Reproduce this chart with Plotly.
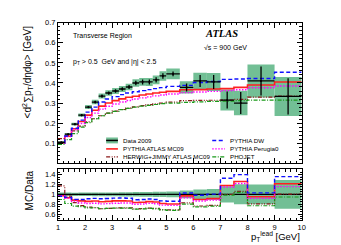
import numpy as np
import plotly.graph_objects as go

# ---------------- data ----------------
edges = [1.0, 1.25, 1.5, 1.75, 2.0, 2.25, 2.5, 2.75, 3.0, 3.25, 3.5, 3.75, 4.0,
         4.25, 4.5, 4.75, 5.0, 5.5, 6.0, 6.5, 7.0, 7.5, 8.0, 9.0, 10.0]
data_2009 = [0.105, 0.145, 0.195, 0.240, 0.280, 0.305, 0.335, 0.350, 0.360, 0.370, 0.380, 0.400,
             0.405, 0.405, 0.415, 0.435, 0.445, 0.378, 0.410, 0.405, 0.315, 0.300, 0.410, 0.333]
data_tot_err = [0.0037, 0.0051, 0.0068, 0.0084, 0.0098, 0.0113, 0.0127, 0.0140, 0.0144, 0.0155, 0.0167, 0.0184,
                0.0194, 0.0203, 0.0216, 0.0239, 0.0267, 0.0300, 0.0410, 0.0446, 0.0520, 0.0610, 0.0820, 0.0970]
data_stat_err = [0.003, 0.004, 0.005, 0.006, 0.006, 0.007, 0.008, 0.008, 0.009, 0.009, 0.010, 0.011,
                 0.012, 0.012, 0.013, 0.014, 0.012, 0.020, 0.030, 0.035, 0.042, 0.055, 0.072, 0.090]
pythia_mc09 = [0.102, 0.135, 0.172, 0.208, 0.240, 0.264, 0.285, 0.300, 0.312, 0.321, 0.329, 0.334,
               0.340, 0.345, 0.350, 0.354, 0.358, 0.366, 0.367, 0.370, 0.372, 0.378, 0.390, 0.405]
pythia_dw = [0.101, 0.136, 0.175, 0.215, 0.255, 0.280, 0.305, 0.320, 0.332, 0.342, 0.350, 0.356,
             0.362, 0.367, 0.372, 0.377, 0.383, 0.388, 0.402, 0.407, 0.418, 0.420, 0.422, 0.453]
pythia_perugia0 = [0.102, 0.133, 0.168, 0.198, 0.228, 0.250, 0.270, 0.284, 0.295, 0.305, 0.313, 0.320,
                   0.326, 0.331, 0.336, 0.340, 0.345, 0.352, 0.355, 0.358, 0.362, 0.366, 0.376, 0.385]
herwig_jimmy = [0.123, 0.140, 0.162, 0.185, 0.207, 0.222, 0.237, 0.250, 0.260, 0.268, 0.275, 0.281,
                0.287, 0.292, 0.296, 0.300, 0.305, 0.312, 0.313, 0.314, 0.315, 0.318, 0.330, 0.335]
phojet = [0.094, 0.118, 0.148, 0.180, 0.203, 0.222, 0.237, 0.250, 0.259, 0.267, 0.274, 0.280,
          0.285, 0.289, 0.293, 0.297, 0.300, 0.303, 0.306, 0.308, 0.310, 0.312, 0.315, 0.315]

legend_labels = ["Data 2009", "PYTHIA ATLAS MC09", "HERWIG+JIMMY ATLAS MC09",
                 "PYTHIA DW", "PYTHIA Perugia0", "PHOJET"]
main_yticks = [0.1, 0.2, 0.3, 0.4, 0.5, 0.6, 0.7]
ratio_yticks = [0.6, 0.8, 1.0, 1.2, 1.4]
ratio_yticktext = ["0.6", "0.8", "1", "1.2", "1.4"]
x_ticks = [1, 2, 3, 4, 5, 6, 7, 8, 9, 10]

# ---------------- styles ----------------
W, H = 341, 245
GREEN = "#72bf95"
FONT = "Liberation Sans"
styles = {
    "mc09": dict(color="#ff2020", width=1.6, dash="solid"),
    "dw": dict(color="#1010ff", width=1.4, dash="4px,2.5px"),
    "perugia": dict(color="#ff00ff", width=1.4, dash="1.5px,1.5px"),
    "herwig": dict(color="#8b1a1a", width=1.2, dash="4px,1.5px,1px,1.5px,1px,1.5px"),
    "phojet": dict(color="#1a9a1a", width=1.2, dash="4px,1.5px,1px,1.5px"),
}

e = np.array(edges)
centers = (e[:-1] + e[1:]) / 2
halfw = np.diff(e) / 2
d = np.array(data_2009)
tot = np.array(data_tot_err)
stat = np.array(data_stat_err)

def px(xp):
    return xp / W

def py(yp):
    return 1 - yp / H

def step(vals):
    v = list(vals)
    return list(edges), v + [v[-1]]

fig = go.Figure()

# main panel: data total uncertainty boxes
fig.add_trace(go.Bar(x=centers, y=2 * tot, base=d - tot, width=2 * halfw,
                     marker=dict(color=GREEN, line=dict(width=0)),
                     xaxis="x", yaxis="y", showlegend=False, hoverinfo="skip"))

mc_sets = [("mc09", pythia_mc09), ("herwig", herwig_jimmy), ("phojet", phojet),
           ("perugia", pythia_perugia0), ("dw", pythia_dw)]
for key, vals in mc_sets:
    xs, ys = step(vals)
    fig.add_trace(go.Scatter(x=xs, y=ys, mode="lines", line=dict(shape="hv", **styles[key]),
                             xaxis="x", yaxis="y", showlegend=False))

# data crosses
fig.add_trace(go.Scatter(x=centers, y=d, mode="markers",
                         marker=dict(size=2, color="black"),
                         error_x=dict(type="data", array=halfw, width=0, thickness=1.3, color="black"),
                         error_y=dict(type="data", array=stat, width=0, thickness=1.3, color="black"),
                         xaxis="x", yaxis="y", showlegend=False))

# ratio panel
rel = tot / d
fig.add_trace(go.Bar(x=centers, y=2 * rel, base=1 - rel, width=2 * halfw,
                     marker=dict(color=GREEN, line=dict(width=0)),
                     xaxis="x2", yaxis="y2", showlegend=False, hoverinfo="skip"))
xs, ys = step(d / d)
fig.add_trace(go.Scatter(x=xs, y=ys, mode="lines", line=dict(shape="hv", color="black", width=1.2),
                         xaxis="x2", yaxis="y2", showlegend=False))
for key, vals in mc_sets:
    xs, ys = step(np.array(vals) / d)
    fig.add_trace(go.Scatter(x=xs, y=ys, mode="lines", line=dict(shape="hv", **styles[key]),
                             xaxis="x2", yaxis="y2", showlegend=False))

# ---------------- axes ----------------
xdom = [px(57), px(305)]
common = dict(showline=True, linecolor="black", linewidth=1, mirror="allticks",
              ticks="inside", tickcolor="black", showgrid=False, zeroline=False,
              tickfont=dict(family=FONT, size=7.5, color="black"))
fig.update_layout(
    width=W, height=H, margin=dict(l=0, r=0, t=0, b=0),
    paper_bgcolor="white", plot_bgcolor="white", barmode="overlay",
    xaxis=dict(domain=xdom, range=[1, 10], anchor="y", tickvals=x_ticks, showticklabels=False,
               ticklen=5, minor=dict(ticks="inside", ticklen=2.5, dtick=0.2, tick0=1, tickcolor="black"),
               **common),
    yaxis=dict(domain=[py(162), py(19)], range=[0, 0.7], anchor="x", tickvals=main_yticks,
               ticklen=5, minor=dict(ticks="inside", ticklen=2.5, dtick=0.02, tick0=0, tickcolor="black"),
               **common),
    xaxis2=dict(domain=xdom, range=[1, 10], anchor="y2", tickvals=x_ticks, ticklen=5,
                minor=dict(ticks="inside", ticklen=2.5, dtick=0.2, tick0=1, tickcolor="black"),
                **common),
    yaxis2=dict(domain=[py(220), py(168)], range=[0.47, 1.51], anchor="x2", tickvals=ratio_yticks,
                ticktext=ratio_yticktext, ticklen=4,
                minor=dict(ticks="inside", ticklen=2, dtick=0.05, tick0=0, tickcolor="black"),
                **common),
)

# ---------------- texts ----------------
ann = []
def text(x, y, t, size, xanchor="left", angle=0, family=FONT, yanchor="middle"):
    ann.append(dict(x=px(x), y=py(y), xref="paper", yref="paper", text=t, showarrow=False,
                    xanchor=xanchor, yanchor=yanchor, textangle=angle,
                    font=dict(family=family, size=size, color="black")))

text(70, 33, "Transverse Region", 7)
text(223, 30, "<b><i>ATLAS</i></b>", 10.5, xanchor="center", family="Liberation Serif")
text(227, 44, "√s = 900 GeV", 7, xanchor="center")
text(70, 59, "p<sub>T</sub> &gt; 0.5  GeV and |η| &lt; 2.5", 7)
text(26, 69, "&lt;d<sup>2</sup>∑p<sub>T</sub>/dηdφ&gt; [GeV]", 10, xanchor="center", angle=-90)
text(28, 190, "MC/Data", 10, xanchor="center", angle=-90)
text(305, 236, "p<sub>T</sub><sup>lead</sup> [GeV]", 9.5, xanchor="right")

# legend (keys + labels)
shapes = []
rows = [138.7, 147.3, 155.5]
col_key = [(106, 118), (214, 227)]
col_txt = [121, 230]
shapes.append(dict(type="rect", xref="paper", yref="paper", x0=px(106), x1=px(118),
                   y0=py(rows[0] + 3), y1=py(rows[0] - 3), fillcolor=GREEN, line=dict(width=0)))
shapes.append(dict(type="line", xref="paper", yref="paper", x0=px(106), x1=px(118),
                   y0=py(rows[0]), y1=py(rows[0]), line=dict(color="black", width=1.5)))
key_order = [None, "mc09", "herwig", "dw", "perugia", "phojet"]
for i, (lab, key) in enumerate(zip(legend_labels, key_order)):
    c = i // 3
    r = rows[i % 3]
    if key is not None:
        s = styles[key]
        shapes.append(dict(type="line", xref="paper", yref="paper", x0=px(col_key[c][0]),
                           x1=px(col_key[c][1]), y0=py(r), y1=py(r),
                           line=dict(color=s["color"], width=s["width"], dash=s["dash"])))
    text(col_txt[c], r, lab, 6.2)

fig.update_layout(annotations=ann, shapes=shapes)
fig.write_html("out.html", config={"displayModeBar": False},
               post_script="document.body.style.margin='0px';document.body.style.padding='0px';")
